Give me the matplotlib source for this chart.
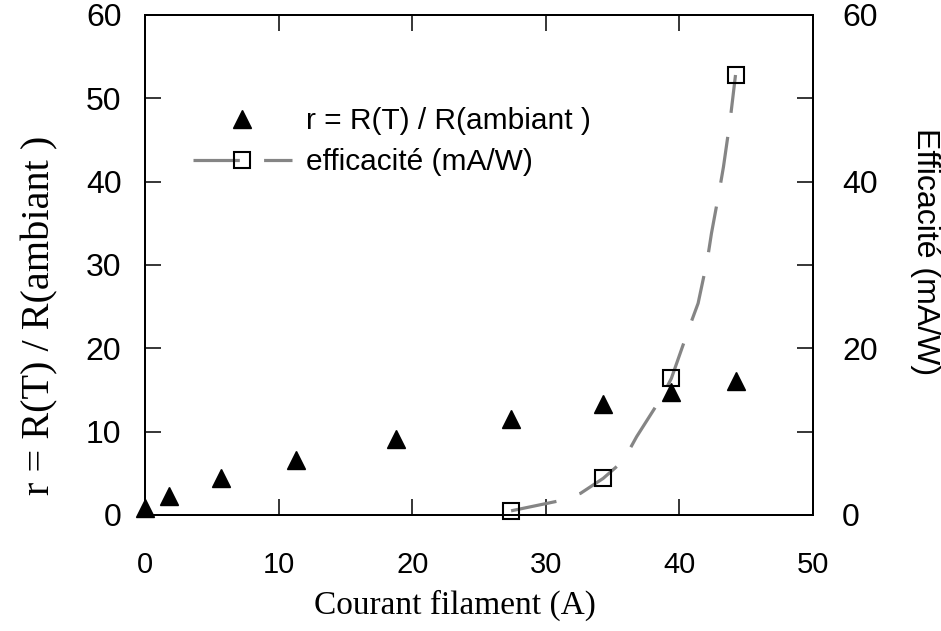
import matplotlib
matplotlib.use("Agg")
import matplotlib.pyplot as plt
from matplotlib.legend_handler import HandlerTuple

# ---- data ----
courant_r = [0.0, 1.8, 5.7, 11.3, 18.8, 27.4, 34.3, 39.4, 44.2]
r_values = [0.8, 2.3, 4.4, 6.6, 9.1, 11.5, 13.3, 14.8, 16.1]

courant_eff = [27.4, 34.3, 39.4, 44.2]
eff_values = [0.5, 4.4, 16.4, 52.8]

curve_x = [27.4, 31.0, 32.6, 34.3, 35.8, 36.8, 38.7, 39.4, 40.8, 41.4, 42.1,
           42.4, 43.0, 43.3, 43.8, 44.2]
curve_y = [0.5, 1.7, 2.6, 4.4, 6.5, 9.4, 14.2, 16.4, 22.8, 25.4, 30.7,
           33.8, 39.0, 41.8, 47.4, 52.8]

x_ticks = [0, 10, 20, 30, 40, 50]
left_ticks = [0, 10, 20, 30, 40, 50, 60]
right_major = [0, 20, 40, 60]
right_minor = [10, 30, 50]

label_r = "r = R(T) / R(ambiant )"
label_eff = "efficacité (mA/W)"
xlabel = "Courant filament (A)"
ylabel_left = "r = R(T) / R(ambiant )"
ylabel_right = "Efficacité (mA/W)"

# ---- figure ----
sans = "Liberation Sans"
serif = "Liberation Serif"
fig = plt.figure(figsize=(9.41, 6.31), dpi=100)
L, R, T, B = 145, 813, 15, 515
W, H = 941, 631
ax = fig.add_axes([L / W, 1 - B / H, (R - L) / W, (B - T) / H])
ax2 = ax.twinx()

for a in (ax, ax2):
    for s in a.spines.values():
        s.set_linewidth(1.4)

ax.set_xlim(0, 50)
ax.set_ylim(0, 60)
ax2.set_ylim(0, 60)

ax.set_xticks(x_ticks)
ax.set_yticks(left_ticks)
ax.tick_params(axis="x", direction="in", length=11.5, width=1.1, top=True,
               pad=26, labelsize=21)
ax.tick_params(axis="y", direction="in", length=11.5, width=1.1, right=False,
               pad=17, labelsize=23)
for lab in ax.get_xticklabels() + ax.get_yticklabels():
    lab.set_fontfamily(sans)

ax2.set_yticks(right_major)
ax2.set_yticks(right_minor, minor=True)
ax2.tick_params(axis="y", which="both", direction="in", length=11.5, width=1.1,
                pad=21, labelsize=23)
for lab in ax2.get_yticklabels():
    lab.set_fontfamily(sans)

# triangles (left axis)
tri, = ax.plot(courant_r, r_values, linestyle="none", marker="^",
               markersize=12.5, color="black", clip_on=False, zorder=5)

# efficiency curve and squares (right axis)
curve, = ax2.plot(curve_x, curve_y, color="#858585", linewidth=2.3,
                  linestyle=(0, (14.5, 7.6)), zorder=3)
sq, = ax2.plot(courant_eff, eff_values, linestyle="none", marker="s",
               markersize=11, markerfacecolor="none", markeredgecolor="black",
               markeredgewidth=1.5, zorder=6, clip_on=False)

leg = ax2.legend([tri, (curve, sq)], [label_r, label_eff],
                 handler_map={tuple: HandlerTuple(ndivide=1)},
                 loc="upper left",
                 bbox_to_anchor=((193 - L) / (R - L), (B - 107) / (B - T)),
                 frameon=False, borderpad=0, borderaxespad=0,
                 handlelength=3.3, handletextpad=0.48, labelspacing=0.45,
                 prop={"family": sans, "size": 21.5})

fig.text(455 / W, 1 - 605 / H, xlabel, family=serif, fontsize=24,
         ha="center", va="center")
fig.text(40 / W, 1 - 315 / H, ylabel_left, family=serif, fontsize=29,
         ha="center", va="center", rotation=90)
fig.text(925 / W, 1 - 252 / H, ylabel_right, family=sans, fontsize=23,
         ha="center", va="center", rotation=270)

fig.savefig("out.png", dpi=100)
